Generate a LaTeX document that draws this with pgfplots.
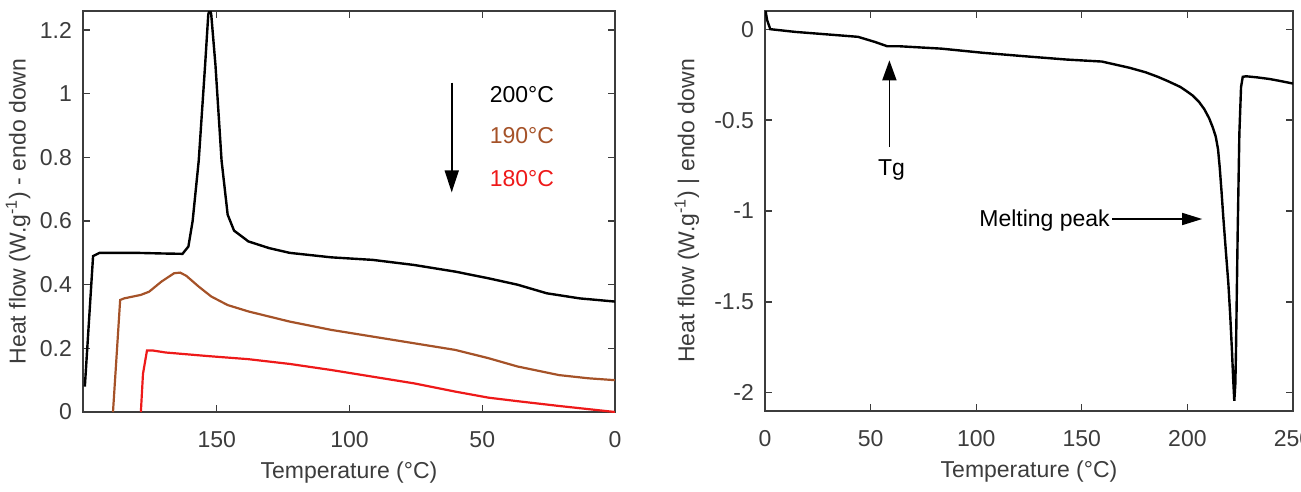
\documentclass[border=0pt]{standalone}
\usepackage{fontspec}
\setmainfont{Liberation Sans}
\usepackage{pgfplots}
\pgfplotsset{compat=1.18}
\usetikzlibrary{arrows.meta}
\definecolor{axgray}{RGB}{60,60,60}
\definecolor{brownc}{RGB}{165,82,40}
\definecolor{redc}{RGB}{238,25,25}
\begin{document}
\begin{tikzpicture}
\pgfplotsset{
  common/.style={
    scale only axis,
    anchor=south west,
    axis line style={axgray, line width=0.8pt},
    every tick/.style={axgray, line width=0.6pt},
    tick align=inside,
    major tick length=3.5pt,
    font=\fontsize{11.5}{14}\selectfont,
    tick label style={text=axgray},
    /pgf/number format/assume math mode=true,
    xticklabel style={yshift=-6pt},
    yticklabel style={xshift=-2pt},
    label style={text=axgray},
    x label style={at={(axis description cs:0.5,0)},anchor=center,yshift=-30.5pt},
    clip=true,
  }
}
% Left axis
\begin{axis}[common,
  at={(41.5pt,-206pt)}, width=266pt, height=200.5pt,
  x dir=reverse, xmin=0, xmax=200.4, ymin=0, ymax=1.26,
  xtick={0,50,100,150}, xticklabels={0,50,100,150},
  ytick={0,0.2,0.4,0.6,0.8,1,1.2}, yticklabels={0,0.2,0.4,0.6,0.8,1,1.2},
  xlabel={Temperature (°C)},
  ylabel={Heat flow (W.g\textsuperscript{-1}) - endo down},
  y label style={at={(axis description cs:-0.122,0.5)},anchor=center},
]
\addplot[black, line width=1.2pt] coordinates {
(199.7,0.08) (196.6,0.49) (194.2,0.50) (180,0.50) (170,0.498) (162.9,0.497) (160.7,0.52) (159.1,0.60)
(156.8,0.79) (154.4,1.09) (153.2,1.25) (152.6,1.265) (152.1,1.25) (150.5,1.09) (148.2,0.79)
(145.9,0.62) (143.5,0.57) (138.1,0.536) (130.3,0.515) (122.5,0.50) (106.9,0.486) (91.3,0.478)
(75.7,0.462) (60.1,0.441) (47.6,0.42) (36.7,0.40) (25.7,0.373) (13.3,0.357) (0,0.347)
};
\addplot[brownc, line width=1.1pt] coordinates {
(189.1,0) (188,0.143) (186.4,0.352) (184.9,0.357) (178.6,0.368) (175.5,0.378) (170.8,0.41)
(166.1,0.436) (163.8,0.438) (161.5,0.428) (156.8,0.394) (152.1,0.363) (145.9,0.336)
(138.1,0.316) (122.5,0.284) (106.9,0.258) (91.3,0.237) (75.7,0.216) (60.1,0.195)
(47.6,0.169) (36.7,0.143) (21.1,0.116) (10.1,0.106) (0,0.10)
};
\addplot[redc, line width=1.1pt] coordinates {
(178.6,0) (177.8,0.12) (176.3,0.193) (173.9,0.193) (169.3,0.187) (153.7,0.176) (138.1,0.166)
(122.5,0.151) (106.9,0.132) (91.3,0.111) (75.7,0.09) (60.1,0.064) (47.6,0.045) (36.7,0.034)
(21.1,0.019) (0,0)
};
\draw[black, line width=0.8pt, -{Triangle[length=11pt,width=7pt]}] (axis cs:61.5,1.035) -- (axis cs:61.5,0.69);
\node[anchor=west, text=black] at (axis cs:49.8,0.997) {200°C};
\node[anchor=west, text=brownc] at (axis cs:49.8,0.868) {190°C};
\node[anchor=west, text=redc] at (axis cs:49.8,0.735) {180°C};
\end{axis}
% Right axis
\begin{axis}[common,
  at={(382.5pt,-205.5pt)}, width=264pt, height=200pt,
  xmin=0, xmax=250, ymin=-2.1, ymax=0.1,
  xtick={0,50,100,150,200,250}, xticklabels={0,50,100,150,200,250},
  ytick={-2,-1.5,-1,-0.5,0}, yticklabels={-2,-1.5,-1,-0.5,0},
  xlabel={Temperature (°C)},
  ylabel={Heat flow (W.g\textsuperscript{-1}) | endo down},
  y label style={at={(axis description cs:-0.148,0.5)},anchor=center},
]
\addplot[black, line width=1.2pt] coordinates {
(0.2,0.105) (1,0.05) (2.5,0) (14.4,-0.015) (34.2,-0.033) (44.0,-0.042) (52.0,-0.07)
(57.9,-0.094) (63.8,-0.094) (83.5,-0.107) (103.3,-0.13) (123.1,-0.149) (142.8,-0.167)
(159.5,-0.178) (166,-0.195) (172.5,-0.212) (180.2,-0.237) (186,-0.262) (191,-0.287) (196.7,-0.318)
(199.5,-0.34) (202.5,-0.365) (205.5,-0.40) (208,-0.44) (210.3,-0.49) (212,-0.54) (213.4,-0.59)
(214.5,-0.66) (215.3,-0.76) (216.2,-0.90) (217.0,-1.035) (218.2,-1.22) (219.4,-1.40) (220.3,-1.58)
(221.1,-1.77) (221.7,-1.93) (222.2,-2.044) (222.7,-1.95)
(223.0,-1.77) (223.8,-1.12) (224.6,-0.575) (225.4,-0.318) (226.2,-0.262) (227.8,-0.259)
(233,-0.265) (238.9,-0.274) (244,-0.285) (250,-0.299)
};
\draw[black, line width=0.8pt, -{Triangle[length=10pt,width=7pt]}] (axis cs:58.9,-0.648) -- (axis cs:58.9,-0.171);
\node[text=black] at (axis cs:59.9,-0.777) {Tg};
\node[anchor=west, text=black, inner sep=0pt] at (axis cs:101.3,-1.052) {Melting peak};
\draw[black, line width=0.8pt, -{Triangle[length=10pt,width=6pt]}] (axis cs:164.4,-1.044) -- (axis cs:207,-1.044);
\end{axis}
\pgfresetboundingbox
\useasboundingbox (0pt,0pt) rectangle (650.5pt,-246pt);
\end{tikzpicture}
\end{document}
